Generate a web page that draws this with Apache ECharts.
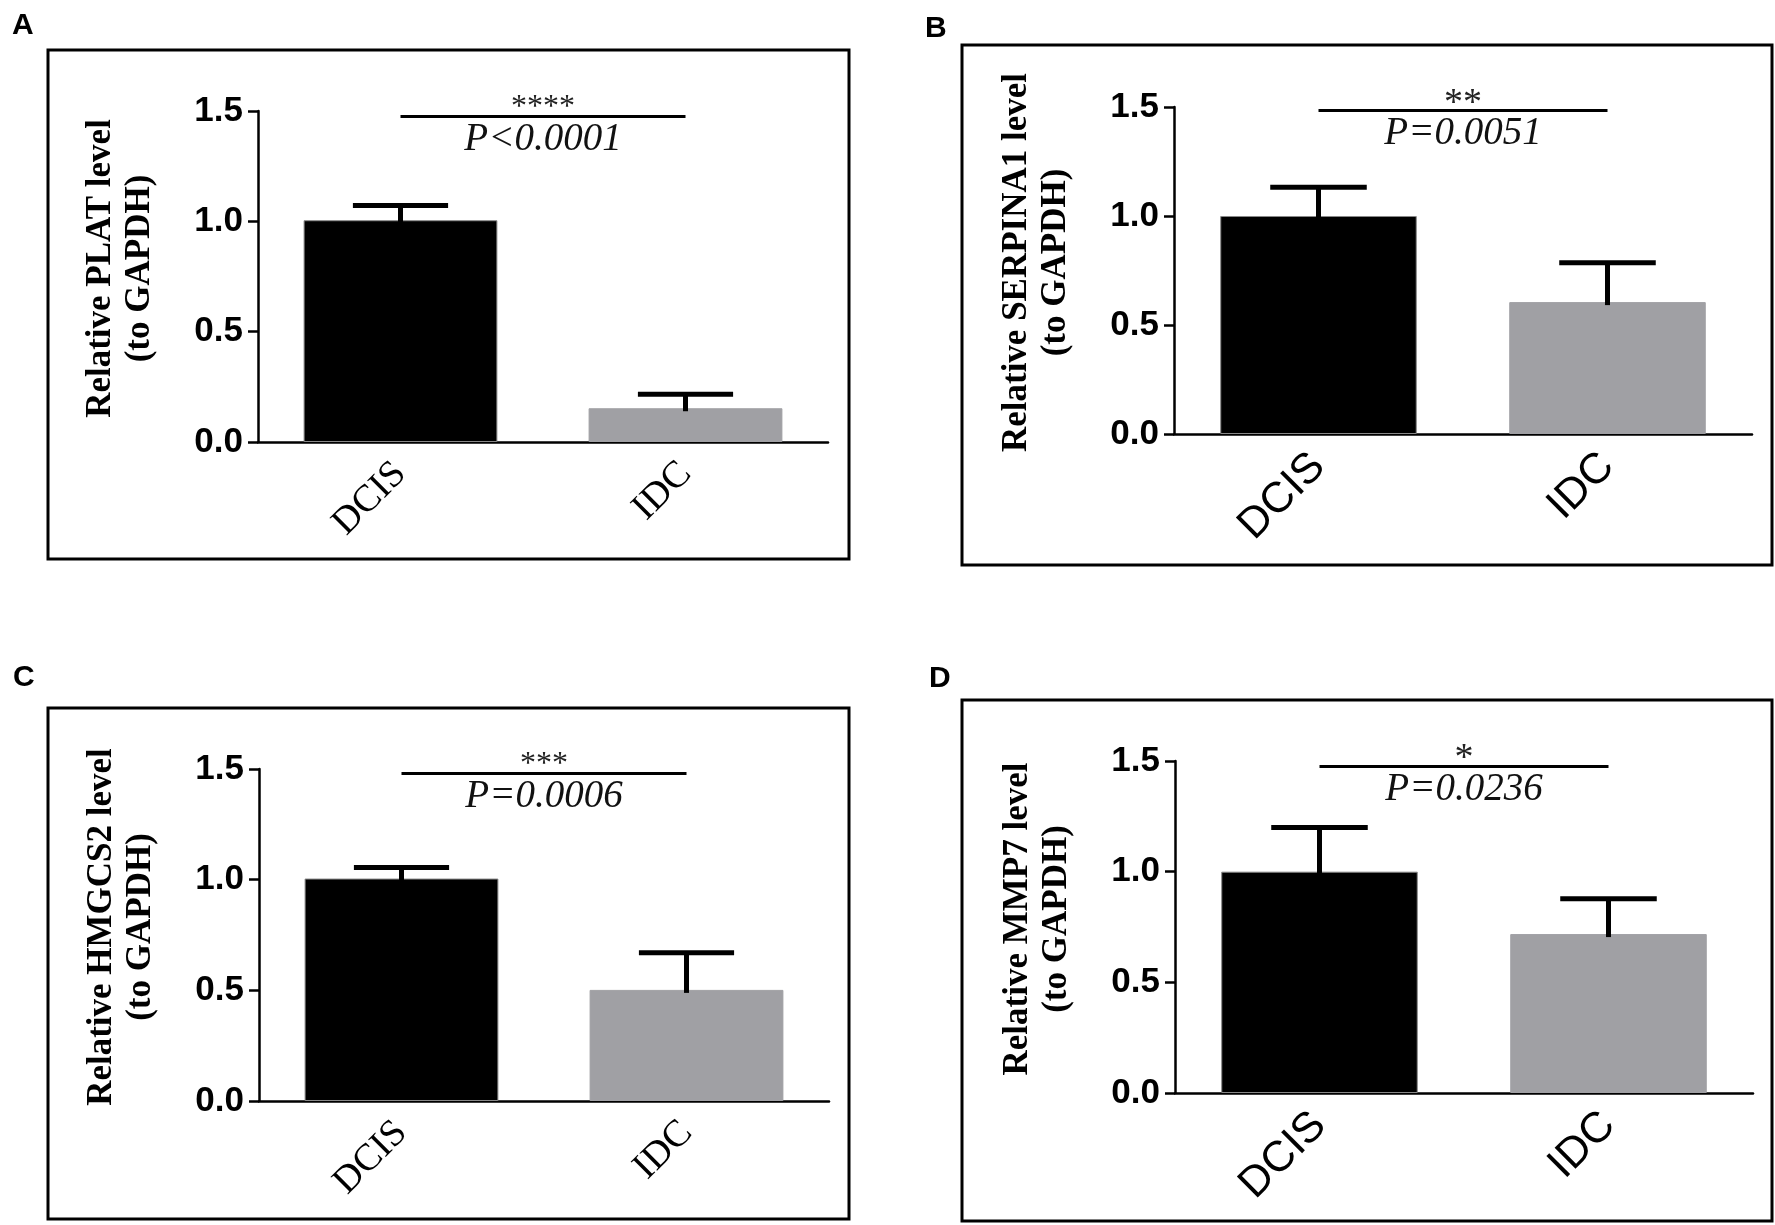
<!DOCTYPE html>
<html>
<head>
<meta charset="utf-8">
<script src="https://cdn.jsdelivr.net/npm/echarts@6/dist/echarts.min.js"></script>
<style>
  html, body { margin: 0; padding: 0; background: #fff; }
  #chart { width: 1775px; height: 1225px; }
</style>
</head>
<body>
<div id="chart"></div>
<script>
// 数据
const categories = ['DCIS', 'IDC']
const panelLetters = ['A', 'B', 'C', 'D']
const genes = ['PLAT', 'SERPINA1', 'HMGCS2', 'MMP7']

const platMean = [1.005, 0.153]
const platErr = [0.067, 0.063]
const serpinaMean = [1.0, 0.605]
const serpinaErr = [0.132, 0.18]
const hmgcsMean = [1.005, 0.502]
const hmgcsErr = [0.05, 0.168]
const mmpMean = [1.0, 0.718]
const mmpErr = [0.2, 0.16]

const stars = ['****', '**', '***', '*']
const pTexts = ['P<0.0001', 'P=0.0051', 'P=0.0006', 'P=0.0236']
const sigLevel = [1.475, 1.483, 1.48, 1.478]
const yTicks = [0, 0.5, 1.0, 1.5]

const means = [platMean, serpinaMean, hmgcsMean, mmpMean]
const errs = [platErr, serpinaErr, hmgcsErr, mmpErr]

// 布局
const grids = [
    { left: 258, top: 111, width: 570, height: 331 },
    { left: 1174, top: 107, width: 578, height: 327 },
    { left: 259, top: 769, width: 570, height: 332 },
    { left: 1175, top: 761, width: 578, height: 332 }
]
const frames = [
    [48, 50, 801, 509],
    [962, 45, 810, 520],
    [48, 708, 801, 511],
    [962, 700, 810, 521]
]
const letterPos = [[12, 11], [925, 14], [13, 663], [929, 664]]
const serifPanel = [true, false, true, false]

const barColors = ['#000000', '#a0a0a4']

// 误差线
const errRender = (params, api) => {
    const idx = api.value(0)
    const mean = api.value(1)
    const err = api.value(2)
    const base = api.coord([idx, mean])
    const top = api.coord([idx, mean + err])
    const half = api.size([1, 0])[0] * 0.167
    const style = { stroke: '#000', lineWidth: 5 }
    return {
        type: 'group',
        children: [
            { type: 'line', shape: { x1: base[0], y1: base[1] + 3, x2: top[0], y2: top[1] }, style },
            { type: 'line', shape: { x1: top[0] - half, y1: top[1], x2: top[0] + half, y2: top[1] }, style }
        ]
    }
}

const xAxis = grids.map((g, i) => ({
    type: 'category',
    gridIndex: i,
    data: categories,
    axisLine: { lineStyle: { color: '#000', width: 2.5 } },
    axisTick: { alignWithLabel: true, length: 10, lineStyle: { color: '#000', width: 2.5 } },
    axisLabel: {
        rotate: 45,
        margin: 26,
        color: '#000',
        fontSize: serifPanel[i] ? 38 : 43,
        fontFamily: serifPanel[i] ? 'Liberation Serif, Times New Roman, serif' : 'Liberation Sans, Arial, sans-serif'
    }
}))

const yAxis = grids.map((g, i) => ({
    type: 'value',
    gridIndex: i,
    min: yTicks[0],
    max: yTicks[yTicks.length - 1],
    interval: 0.5,
    splitLine: { show: false },
    axisLine: { show: true, lineStyle: { color: '#000', width: 2.5 } },
    axisTick: { show: true, length: 10, lineStyle: { color: '#000', width: 2.5 } },
    axisLabel: {
        margin: 15,
        color: '#000',
        fontSize: 35,
        fontWeight: 'bold',
        fontFamily: 'Liberation Sans, Arial, sans-serif',
        formatter: v => v.toFixed(1)
    },
    name: 'Relative ' + genes[i] + ' level\n(to GAPDH)',
    nameLocation: 'middle',
    nameRotate: 90,
    nameGap: 99,
    nameTextStyle: {
        color: '#000',
        fontSize: 35,
        fontWeight: 'bold',
        lineHeight: 39,
        padding: [0, 0, 0, 16],
        fontFamily: 'Liberation Serif, Times New Roman, serif'
    }
}))

const series = []
grids.forEach((g, i) => {
    series.push({
        type: 'bar',
        xAxisIndex: i,
        yAxisIndex: i,
        barCategoryGap: '32%',
        data: means[i].map((v, k) => ({
            value: v,
            itemStyle: { color: barColors[k], borderColor: k === 0 ? '#888' : barColors[k], borderWidth: 1 }
        })),
        markLine: {
            silent: true,
            symbol: ['none', 'none'],
            animation: false,
            lineStyle: { color: '#000', width: 3, type: 'solid' },
            data: [
                [
                    {
                        coord: [0, sigLevel[i]],
                        label: {
                            show: true,
                            position: 'insideMiddleTop',
                            distance: serifPanel[i] ? -7 : -12,
                            formatter: stars[i],
                            color: '#222',
                            fontSize: serifPanel[i] ? 32 : 38,
                            fontFamily: 'Liberation Serif, Times New Roman, serif'
                        }
                    },
                    { coord: [1, sigLevel[i]] }
                ],
                [
                    {
                        coord: [0, sigLevel[i]],
                        lineStyle: { width: 0, color: 'rgba(0,0,0,0)' },
                        label: {
                            show: true,
                            position: 'insideMiddleBottom',
                            distance: 4,
                            formatter: pTexts[i],
                            color: '#111',
                            fontSize: 39,
                            fontStyle: 'italic',
                            fontFamily: 'Liberation Serif, Times New Roman, serif'
                        }
                    },
                    { coord: [1, sigLevel[i]] }
                ]
            ]
        }
    })
    series.push({
        type: 'custom',
        xAxisIndex: i,
        yAxisIndex: i,
        renderItem: errRender,
        encode: { x: 0, y: 1 },
        z: 5,
        data: means[i].map((v, k) => [k, v, errs[i][k]])
    })
})

const title = panelLetters.map((t, i) => ({
    text: t,
    left: letterPos[i][0],
    top: letterPos[i][1],
    padding: 0,
    textStyle: { fontSize: 30, fontWeight: 'bold', color: '#000', fontFamily: 'Liberation Sans, Arial, sans-serif' }
}))

const graphic = frames.map(f => ({
    type: 'rect',
    shape: { x: f[0], y: f[1], width: f[2], height: f[3] },
    style: { fill: 'none', stroke: '#000', lineWidth: 3 },
    silent: true
}))

const chart = echarts.init(document.getElementById('chart'), null, { renderer: 'canvas' })
chart.setOption({
    animation: false,
    backgroundColor: '#fff',
    title,
    grid: grids,
    xAxis,
    yAxis,
    series,
    graphic
})
</script>
</body>
</html>
